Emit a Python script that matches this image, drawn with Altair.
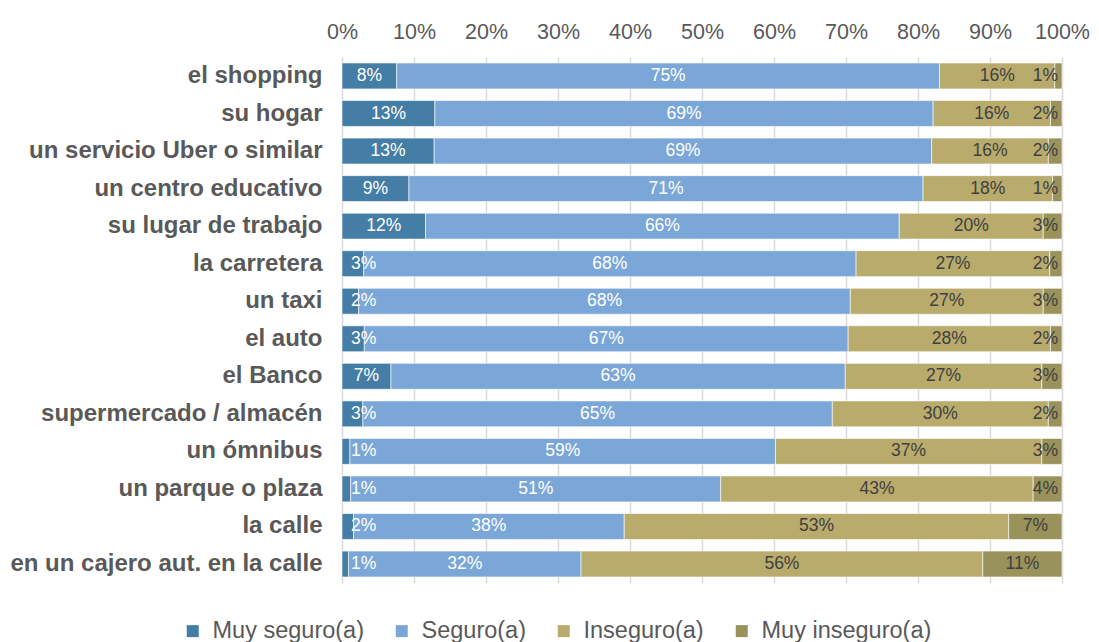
import altair as alt
import pandas as pd

categories = [
    "el shopping", "su hogar", "un servicio Uber o similar", "un centro educativo",
    "su lugar de trabajo", "la carretera", "un taxi", "el auto", "el Banco",
    "supermercado / almacén", "un ómnibus", "un parque o plaza", "la calle",
    "en un cajero aut. en la calle",
]
series = ["Muy seguro(a)", "Seguro(a)", "Inseguro(a)", "Muy inseguro(a)"]

muy_seguro = [7.6, 12.9, 12.8, 9.3, 11.6, 3.0, 2.3, 3.1, 6.8, 2.9, 1.1, 1.2, 1.6, 0.9]
seguro = [75.4, 69.2, 69.1, 71.4, 65.8, 68.4, 68.3, 67.2, 63.1, 65.2, 59.1, 51.4, 37.6, 32.3]
inseguro = [16.0, 16.3, 16.2, 18.0, 20.0, 26.9, 26.8, 28.1, 27.3, 30.0, 37.0, 43.4, 53.4, 55.8]
muy_inseguro = [1.0, 1.6, 1.9, 1.3, 2.6, 1.7, 2.6, 1.6, 2.8, 1.9, 2.8, 4.0, 7.4, 11.0]

colors = ["#447DA5", "#7BA7D8", "#B8AB6C", "#99925A"]
label_colors = ["#FFFFFF", "#FFFFFF", "#404040", "#404040"]
x_ticks = list(range(0, 101, 10))

rows = []
for i, cat in enumerate(categories):
    vals = [muy_seguro[i], seguro[i], inseguro[i], muy_inseguro[i]]
    start = 0.0
    for j, (s, v) in enumerate(zip(series, vals)):
        end = start + v
        center = (start + end) / 2
        if j == 0:
            lx = max(center, 3.0)
        elif j == 3:
            lx = min(center, 97.7)
        else:
            lx = center
        rows.append(dict(cat=cat, series=s, order=j, start=start, end=end,
                         label=f"{round(v)}%", lx=lx, lcolor=label_colors[j]))
        start = end
df = pd.DataFrame(rows)

FONT = "Liberation Sans"

y_enc = alt.Y(
    "cat:N", sort=categories, title=None,
    scale=alt.Scale(paddingInner=0.31, paddingOuter=0.16),
    axis=alt.Axis(labelFont=FONT, labelFontWeight="bold", labelFontSize=24,
                  labelColor="#595959", labelPadding=20, domain=False,
                  ticks=False, tickSize=0, grid=False, labelLimit=400),
)

bars = alt.Chart(df).mark_bar(stroke="#FFFFFF", strokeWidth=0.6).encode(
    x=alt.X("start:Q", title=None,
            scale=alt.Scale(domain=[0, 100], nice=False),
            axis=alt.Axis(orient="top", values=x_ticks, labelExpr="datum.value + '%'",
                          labelFont=FONT, labelFontSize=21.5, labelColor="#595959",
                          labelPadding=14, labelOverlap=False, labelFlush=False,
                          labelBound=False, domain=False,
                          ticks=False, tickSize=0,
                          grid=True, gridColor="#D9D9D9", gridWidth=1.5)),
    x2="end:Q",
    y=y_enc,
    color=alt.Color("series:N", scale=alt.Scale(domain=series, range=colors),
                    legend=alt.Legend(orient="none", legendX=-161, legendY=562,
                                      direction="horizontal", title=None,
                                      symbolType="square", symbolSize=144,
                                      symbolStrokeWidth=0, labelFont=FONT,
                                      labelFontSize=23.5, labelColor="#595959",
                                      labelLimit=400, padding=0,
                                      labelOffset=8, columnPadding=26)),
    order="order:Q",
)

text = alt.Chart(df).mark_text(font=FONT, fontSize=17.5, align="center", baseline="middle").encode(
    x="lx:Q",
    y=alt.Y("cat:N", sort=categories),
    text="label:N",
    color=alt.Color("lcolor:N", scale=None),
)

chart = alt.layer(bars, text).properties(
    width=720, height=526,
    autosize=alt.AutoSizeParams(type="none"),
    padding={"left": 334, "top": 49, "right": 29, "bottom": 59},
).configure_view(stroke=None)

chart.save("out.html", embed_options={"renderer": "svg", "actions": False})
